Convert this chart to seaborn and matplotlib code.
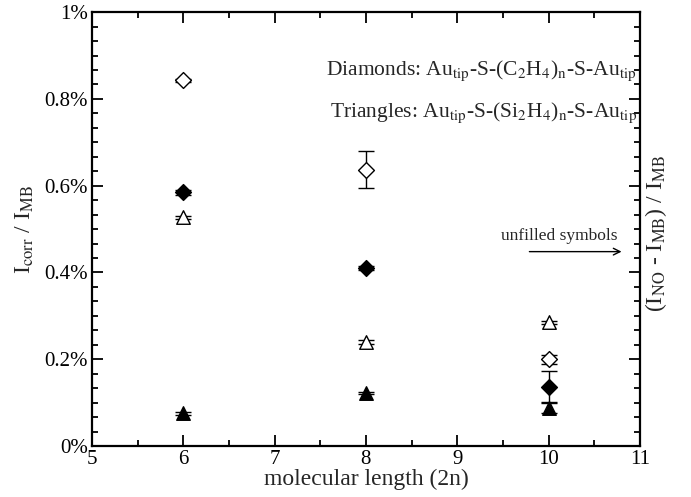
import matplotlib
matplotlib.use("Agg")
import matplotlib.pyplot as plt
from matplotlib.ticker import MultipleLocator, AutoMinorLocator, FuncFormatter
import seaborn as sns
import pandas as pd

# Data (values in %)
lengths = [6, 8, 10]
diamond_unfilled = [0.843, 0.637, 0.200]
diamond_unfilled_err = [0.003, 0.042, 0.010]
diamond_filled = [0.585, 0.410, 0.137]
diamond_filled_err = [0.006, 0.004, 0.035]
triangle_unfilled = [0.527, 0.240, 0.285]
triangle_unfilled_err = [0.004, 0.004, 0.004]
triangle_filled = [0.075, 0.122, 0.088]
triangle_filled_err = [0.003, 0.003, 0.012]

x_ticks = [5, 6, 7, 8, 9, 10, 11]

sns.set_theme(style="ticks")
plt.rcParams["font.family"] = ["Liberation Serif", "DejaVu Serif"]
plt.rcParams["mathtext.fontset"] = "stix"

fig = plt.figure(figsize=(6.91, 4.97), dpi=100)
ax = fig.add_axes([0.133, 0.1026, 0.793, 0.873])

series = [
    (diamond_unfilled, diamond_unfilled_err, "D", "white", 65),
    (diamond_filled, diamond_filled_err, "D", "black", 65),
    (triangle_unfilled, triangle_unfilled_err, "^", "white", 95),
    (triangle_filled, triangle_filled_err, "^", "black", 95),
]
for vals, errs, mk, fc, s in series:
    ax.errorbar(lengths, vals, yerr=errs, fmt="none", ecolor="black",
                elinewidth=1.0, capsize=6, capthick=1.0, zorder=2)
    df = pd.DataFrame({"x": lengths, "y": vals})
    sns.scatterplot(data=df, x="x", y="y", marker=mk, s=s, color=fc,
                    edgecolor="black", linewidth=1.0, ax=ax, zorder=3,
                    legend=False)

ax.set_xlim(5, 11)
ax.set_ylim(0, 1.0)
ax.set_xticks(x_ticks)
ax.xaxis.set_minor_locator(AutoMinorLocator(2))
ax.yaxis.set_major_locator(MultipleLocator(0.2))
ax.yaxis.set_minor_locator(AutoMinorLocator(6))

def pct(v, pos):
    s = f"{v:.1f}".rstrip("0").rstrip(".")
    return s + "%"
ax.yaxis.set_major_formatter(FuncFormatter(pct))

for sp in ax.spines.values():
    sp.set_linewidth(1.6)
    sp.set_color("black")

ax.tick_params(which="both", direction="in", top=True, right=True,
               color="black", labelsize=15, labelcolor="black", pad=3)
ax.tick_params(which="major", length=8, width=1.3)
ax.tick_params(which="minor", length=4, width=1.3)

ax.set_xlabel("molecular length (2n)", fontsize=17, labelpad=0)
ax.set_ylabel(r"I$_{\mathrm{corr}}$ / I$_{\mathrm{MB}}$", fontsize=17, labelpad=6)

fig.text(0.95, 0.53, r"(I$_{\mathrm{NO}}$ - I$_{\mathrm{MB}}$) / I$_{\mathrm{MB}}$",
         rotation=90, fontsize=17, ha="center", va="center")

ax.text(10.97, 0.866, r"Diamonds: Au$_{\mathrm{tip}}$-S-(C$_2$H$_4$)$_\mathrm{n}$-S-Au$_{\mathrm{tip}}$",
        fontsize=15.5, ha="right", va="center")
ax.text(10.97, 0.768, r"Triangles: Au$_{\mathrm{tip}}$-S-(Si$_2$H$_4$)$_\mathrm{n}$-S-Au$_{\mathrm{tip}}$",
        fontsize=15.5, ha="right", va="center")
ax.text(10.12, 0.485, "unfilled symbols", fontsize=12.5, ha="center", va="center")
ax.annotate("", xy=(10.83, 0.448), xytext=(9.76, 0.448),
            arrowprops=dict(arrowstyle="->", color="black", lw=1.0))

ax.set_facecolor("white")
fig.patch.set_facecolor("white")
fig.savefig("out.png", dpi=100)
